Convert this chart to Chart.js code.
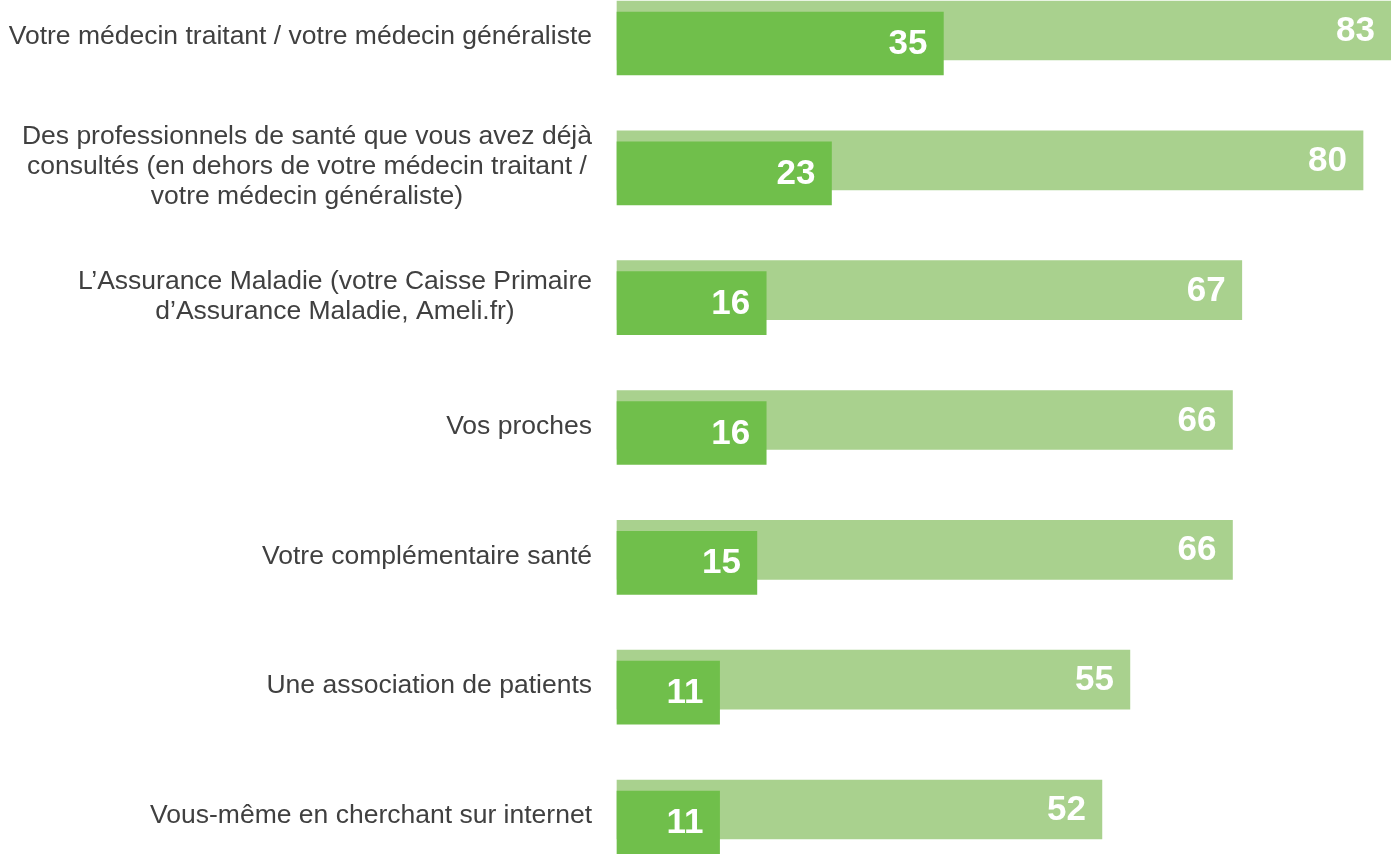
<!DOCTYPE html>
<html lang="fr">
<head>
<meta charset="utf-8">
<title>Sources d'information santé</title>
<script src="https://cdn.jsdelivr.net/npm/chart.js@4.4.1/dist/chart.umd.min.js"></script>
<style>
  html, body { margin: 0; padding: 0; background: #ffffff; }
  #wrap { width: 1391px; height: 854px; }
</style>
</head>
<body>
<div id="wrap"><canvas id="barChart" width="1391" height="854"></canvas></div>
<script>
// categories (one array of lines per label)
const categories = [
  ["Votre médecin traitant / votre médecin généraliste"],
  ["Des professionnels de santé que vous avez déjà", "consultés (en dehors de votre médecin traitant /", "votre médecin généraliste)"],
  ["L’Assurance Maladie (votre Caisse Primaire", "d’Assurance Maladie, Ameli.fr)"],
  ["Vos proches"],
  ["Votre complémentaire santé"],
  ["Une association de patients"],
  ["Vous-même en cherchant sur internet"]
];
// front (dark) series and back (light) series
const valuesFront = [35, 23, 16, 16, 15, 11, 11];
const valuesBack = [83, 80, 67, 66, 66, 55, 52];

const FONT = "'Liberation Sans', Arial, Helvetica, sans-serif";
const darkGreen = "#70BF4B";
const lightGreen = "#A9D18E";

// vertical shift of each dataset around the category centre
const shiftY = [5.5, -7.5];

const offsetPlugin = {
  id: "offsetBars",
  beforeDatasetDraw(chart, args) {
    chart.ctx.save();
    chart.ctx.translate(0, shiftY[args.index]);
  },
  afterDatasetDraw(chart, args) {
    const ctx = chart.ctx;
    const meta = args.meta;
    const values = chart.data.datasets[args.index].data;
    ctx.font = "bold 35px " + FONT;
    ctx.fillStyle = "#ffffff";
    ctx.textAlign = "right";
    ctx.textBaseline = "middle";
    meta.data.forEach(function (bar, i) {
      ctx.fillText(String(values[i]), bar.x - 16, bar.y + 1);
    });
    ctx.restore();
  }
};

const labelPlugin = {
  id: "categoryLabels",
  afterDraw(chart) {
    const ctx = chart.ctx;
    const yScale = chart.scales.y;
    const right = chart.chartArea.left - 25;
    const lineHeight = 30;
    ctx.save();
    ctx.font = "26.5px " + FONT;
    ctx.fillStyle = "#404040";
    ctx.textAlign = "center";
    ctx.textBaseline = "middle";
    categories.forEach(function (lines, i) {
      const cy = yScale.getPixelForTick(i) - 1;
      let widest = 0;
      lines.forEach(function (l) { widest = Math.max(widest, ctx.measureText(l).width); });
      const cx = right - widest / 2;
      const top = cy - (lines.length - 1) * lineHeight / 2;
      lines.forEach(function (l, j) {
        ctx.fillText(l, cx, top + j * lineHeight);
      });
    });
    ctx.restore();
  }
};

const ctx = document.getElementById("barChart").getContext("2d");
new Chart(ctx, {
  type: "bar",
  data: {
    labels: categories,
    datasets: [
      {
        label: "front",
        data: valuesFront,
        backgroundColor: darkGreen,
        barThickness: 63,
        grouped: false,
        clip: false,
        order: 0
      },
      {
        label: "back",
        data: valuesBack,
        backgroundColor: lightGreen,
        barThickness: 59,
        grouped: false,
        clip: false,
        order: 1
      }
    ]
  },
  options: {
    indexAxis: "y",
    responsive: false,
    animation: false,
    layout: { padding: { left: 617, right: 0, top: 38, bottom: 37 } },
    plugins: {
      legend: { display: false },
      tooltip: { enabled: false }
    },
    scales: {
      x: { type: "linear", min: 0, max: 83, display: false },
      y: { type: "category", offset: false, display: false }
    }
  },
  plugins: [offsetPlugin, labelPlugin]
});
</script>
</body>
</html>
